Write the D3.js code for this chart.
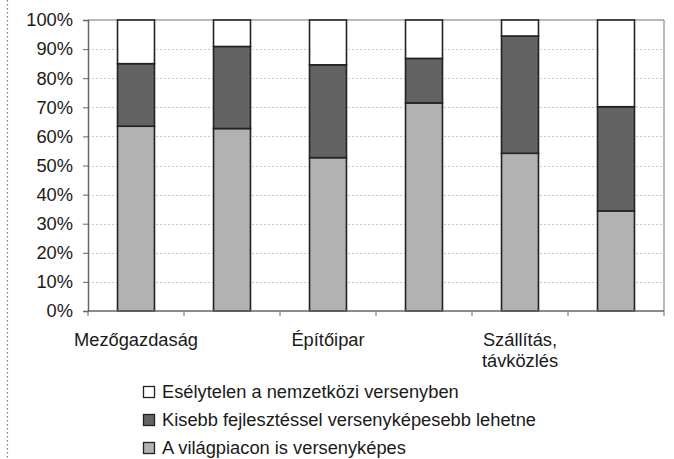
<!DOCTYPE html>
<html><head><meta charset="utf-8">
<script src="https://cdn.jsdelivr.net/npm/d3@7"></script>
<style>body{margin:0;background:#fff}svg{display:block}</style>
</head><body><svg id="c" width="674" height="459"></svg>
<script>
const categories = ["c1","c2","c3","c4","c5","c6"];
const tickLabels = [["Mezőgazdaság"],[],["Építőipar"],[],["Szállítás,","távközlés"],[]];
const seriesNames = ["A világpiacon is versenyképes","Kisebb fejlesztéssel versenyképesebb lehetne","Esélytelen a nemzetközi versenyben"];
const worldCompetitive = [63.5, 62.7, 52.7, 71.5, 54.2, 34.4];
const smallDevelopment = [21.5, 28.2, 31.9, 15.3, 40.3, 35.8];
const hopeless = [15.0, 9.1, 15.4, 13.2, 5.5, 29.8];
const yTicks = [0,10,20,30,40,50,60,70,80,90,100];
const colors = ["#b2b2b2","#636363","#ffffff"];

const svg = d3.select("#c");
const font = "'Liberation Sans', Arial, sans-serif";
const fs = 18.3;
const L = 88, R = 664, T = 20, B = 311;

const rows = categories.map((c,i)=>({cat:c, s0:worldCompetitive[i], s1:smallDevelopment[i], s2:hopeless[i]}));
const stack = d3.stack().keys(["s0","s1","s2"])(rows);

const x = d3.scaleBand().domain(categories).range([L,R]).paddingInner(0.615).paddingOuter(0.3075);
const xSlot = d3.scaleBand().domain(categories).range([L,R]);
const y = d3.scaleLinear().domain([0,100]).range([B,T]);

// left dotted border line
svg.append("line").attr("x1",7.5).attr("x2",7.5).attr("y1",0).attr("y2",459)
  .attr("stroke","#777").attr("stroke-width",1.2).attr("stroke-dasharray","1.5,2.5");

// gridlines
svg.append("g").selectAll("line").data(yTicks.filter(d=>d>0&&d<100)).join("line")
  .attr("x1",L).attr("x2",R).attr("y1",d=>Math.round(y(d))+0.5).attr("y2",d=>Math.round(y(d))+0.5)
  .attr("stroke","#c8c8c8").attr("stroke-width",1).attr("stroke-dasharray","2,2");

// plot border top/right
svg.append("line").attr("x1",L).attr("x2",R).attr("y1",T).attr("y2",T).attr("stroke","#a0a0a0").attr("stroke-width",1.5);
svg.append("line").attr("x1",R).attr("x2",R).attr("y1",T).attr("y2",B).attr("stroke","#a0a0a0").attr("stroke-width",1.5);

// bars
svg.append("g").selectAll("g").data(stack).join("g").attr("fill",(d,i)=>colors[i])
  .selectAll("rect").data(d=>d).join("rect")
  .attr("x",d=>x(d.data.cat)).attr("width",x.bandwidth())
  .attr("y",d=>y(d[1])).attr("height",d=>y(d[0])-y(d[1]))
  .attr("stroke","#222").attr("stroke-width",1.6);

// y axis
const yAxis = svg.append("g").attr("transform",`translate(${L},0)`)
  .call(d3.axisLeft(y).tickValues(yTicks).tickFormat(d=>d+"%").tickSize(5).tickPadding(10));
yAxis.select(".domain").attr("stroke","#666").attr("stroke-width",1.5);
yAxis.selectAll(".tick line").attr("stroke","#666");
yAxis.selectAll("text").attr("font-family",font).attr("font-size",fs).attr("fill","#1a1a1a");

// x axis
const xg = svg.append("g").attr("transform",`translate(0,${B})`);
xg.append("line").attr("x1",L).attr("x2",R).attr("y1",0).attr("y2",0).attr("stroke","#666").attr("stroke-width",1.5);
const tickX = categories.map(c=>xSlot(c)).concat([R]);
xg.selectAll(".t").data(tickX).join("line").attr("class","t")
  .attr("x1",d=>d).attr("x2",d=>d).attr("y1",0).attr("y2",5).attr("stroke","#666");
xg.selectAll("text.lbl").data(categories).join("text").attr("class","lbl")
  .attr("x",c=>xSlot(c)+xSlot.bandwidth()/2).attr("y",35)
  .attr("text-anchor","middle").attr("font-family",font).attr("font-size",fs).attr("fill","#1a1a1a")
  .each(function(c,i){
    d3.select(this).selectAll("tspan").data(tickLabels[i]).join("tspan")
      .attr("x",xSlot(c)+xSlot.bandwidth()/2).attr("dy",(d,j)=>j===0?0:21).text(d=>d);
  });

// legend
const legendOrder = [2,1,0];
const lg = svg.append("g");
legendOrder.forEach((si,k)=>{
  const cy = 392 + k*28;
  lg.append("rect").attr("x",143.5).attr("y",cy-5.5).attr("width",11).attr("height",11)
    .attr("fill",colors[si]).attr("stroke","#222").attr("stroke-width",1.3);
  lg.append("text").attr("x",162).attr("y",cy+6).attr("font-family",font).attr("font-size",fs)
    .attr("fill","#1a1a1a").text(seriesNames[si]);
});
</script></body></html>
